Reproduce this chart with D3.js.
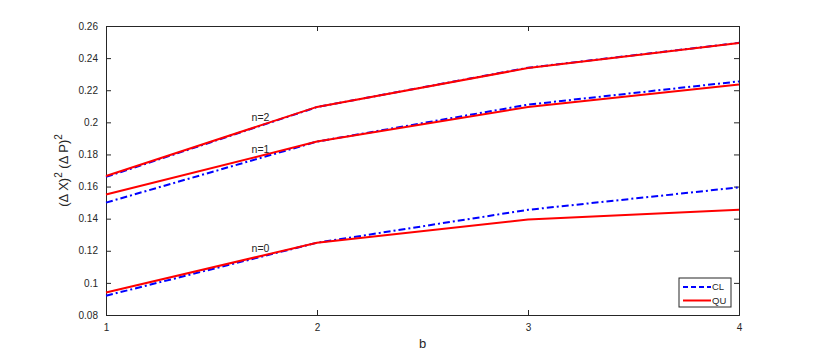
<!DOCTYPE html>
<html>
<head>
<meta charset="utf-8">
<script src="https://cdn.jsdelivr.net/npm/d3@7"></script>
<style>
  body { margin: 0; background: #fff; }
  text { font-family: "Liberation Sans", Arial, sans-serif; fill: #262626; }
</style>
</head>
<body>
<div id="chart"></div>
<script>
// data
var bValues = [1, 2, 3, 4];
var clN0 = [0.092, 0.125, 0.1455, 0.1595];
var quN0 = [0.094, 0.125, 0.1395, 0.1455];
var clN1 = [0.150, 0.188, 0.211, 0.2255];
var quN1 = [0.155, 0.188, 0.2095, 0.2235];
var clN2 = [0.166, 0.2095, 0.234, 0.2495];
var quN2 = [0.1666, 0.2096, 0.2338, 0.2494];
var xTicks = [1, 2, 3, 4];
var yTicks = [0.08, 0.1, 0.12, 0.14, 0.16, 0.18, 0.2, 0.22, 0.24, 0.26];
var curveLabels = [
    {text: "n=2", b: 1.69, v: 0.2033},
    {text: "n=1", b: 1.69, v: 0.1834},
    {text: "n=0", b: 1.69, v: 0.1217}
];

var margin = {top: 26, right: 78, bottom: 39, left: 106};
var width = 817 - margin.left - margin.right,
    height = 354 - margin.top - margin.bottom;

var svg = d3.select("#chart").append("svg")
    .attr("width", 817)
    .attr("height", 354);

var g = svg.append("g")
    .attr("transform", "translate(" + margin.left + "," + margin.top + ")");

var x = d3.scaleLinear().domain([1, 4]).range([0, width]);
var y = d3.scaleLinear().domain([0.08, 0.26]).range([height, 0]);

var fmtY = function(d) { return d3.format("")(+d.toFixed(2)); };

// axes, ticks inward
g.append("g")
    .attr("transform", "translate(0," + height + ")")
    .call(d3.axisBottom(x).tickValues(xTicks).tickSize(-5).tickPadding(9).tickFormat(d3.format("d")));
g.append("g")
    .attr("transform", "translate(0,0)")
    .call(d3.axisTop(x).tickValues(xTicks).tickSize(-5).tickFormat(""));
g.append("g")
    .call(d3.axisLeft(y).tickValues(yTicks).tickSize(-5).tickPadding(8).tickFormat(fmtY));
g.append("g")
    .attr("transform", "translate(" + width + ",0)")
    .call(d3.axisRight(y).tickValues(yTicks).tickSize(-5).tickFormat(""));

g.selectAll(".domain").attr("stroke", "#262626");
g.selectAll(".tick line").attr("stroke", "#262626");
g.selectAll(".tick text").style("font-size", "10px").attr("fill", "#262626");

var line = d3.line()
    .x(function(d, i) { return x(bValues[i]); })
    .y(function(d) { return y(d); });

var series = [
    {vals: clN0, color: "#0000ff", dash: "7,3,2,3"},
    {vals: clN1, color: "#0000ff", dash: "7,3,2,3"},
    {vals: clN2, color: "#0000ff", dash: "7,3,2,3"},
    {vals: quN0, color: "#ff0000", dash: null},
    {vals: quN1, color: "#ff0000", dash: null},
    {vals: quN2, color: "#ff0000", dash: null}
];

g.selectAll("path.series")
    .data(series)
    .enter().append("path")
    .attr("class", "series")
    .attr("d", function(d) { return line(d.vals); })
    .attr("fill", "none")
    .attr("stroke", function(d) { return d.color; })
    .attr("stroke-width", 2)
    .attr("stroke-dasharray", function(d) { return d.dash; });

g.selectAll("text.nlabel")
    .data(curveLabels)
    .enter().append("text")
    .attr("class", "nlabel")
    .attr("x", function(d) { return x(d.b); })
    .attr("y", function(d) { return y(d.v); })
    .attr("dy", "0.35em")
    .style("font-size", "10.5px")
    .text(function(d) { return d.text; });

// axis labels
svg.append("text")
    .attr("x", margin.left + width / 2)
    .attr("y", 348)
    .attr("text-anchor", "middle")
    .style("font-size", "13px")
    .text("b");

var yl = svg.append("text")
    .attr("transform", "translate(68," + (margin.top + height / 2) + ") rotate(-90)")
    .attr("text-anchor", "middle")
    .style("font-size", "13px");
yl.append("tspan").text("(\u0394 X)");
yl.append("tspan").attr("dy", -6).style("font-size", "10px").text("2");
yl.append("tspan").attr("dy", 6).text(" (\u0394 P)");
yl.append("tspan").attr("dy", -6).style("font-size", "10px").text("2");

// legend
var legend = g.append("g")
    .attr("transform", "translate(" + (x(4) - 60) + "," + (y(0.08) - 37) + ")");
legend.append("rect")
    .attr("width", 52).attr("height", 29)
    .attr("fill", "#fff").attr("stroke", "#262626").attr("stroke-width", 1);
var legItems = [
    {name: "CL", color: "#0000ff", dash: "5,3"},
    {name: "QU", color: "#ff0000", dash: null}
];
legItems.forEach(function(d, i) {
    var yy = 9 + i * 13.5;
    legend.append("line")
        .attr("x1", 4).attr("x2", 32).attr("y1", yy).attr("y2", yy)
        .attr("stroke", d.color).attr("stroke-width", 2)
        .attr("stroke-dasharray", d.dash);
    legend.append("text")
        .attr("x", 33).attr("y", yy).attr("dy", "0.35em")
        .style("font-size", "9.5px")
        .text(d.name);
});
</script>
</body>
</html>
